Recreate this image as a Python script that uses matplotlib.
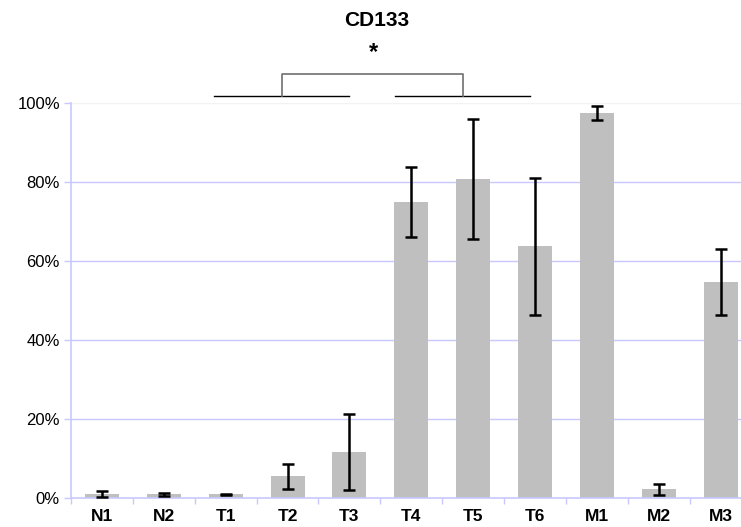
import matplotlib
matplotlib.use("Agg")
import matplotlib.pyplot as plt
from matplotlib.ticker import FixedLocator, PercentFormatter
import numpy as np

categories = ["N1", "N2", "T1", "T2", "T3", "T4", "T5", "T6", "M1", "M2", "M3"]
means = [1.1, 1.0, 1.0, 5.6, 11.8, 75.0, 80.8, 63.8, 97.6, 2.3, 54.7]
errors = [0.8, 0.3, 0.2, 3.2, 9.6, 8.9, 15.2, 17.3, 1.8, 1.4, 8.3]
yticks = [0, 20, 40, 60, 80, 100]
title = "CD133"

plt.rcParams['font.family'] = ['Liberation Sans', 'DejaVu Sans']

W, H = 741, 527
fig = plt.figure(figsize=(W / 100, H / 100), dpi=100)
x0, x1 = 71, 751.5
ybot, ytop = 498.3, 103.3
ax = fig.add_axes([x0 / W, (H - ybot) / H, (x1 - x0) / W, (ybot - ytop) / H])

x = np.arange(len(categories))
ax.bar(x, means, width=0.55, color="#bfbfbf", zorder=2)
ax.errorbar(x, means, yerr=errors, fmt="none", ecolor="black", elinewidth=1.8,
            capsize=4.5, capthick=1.8, zorder=3)

ax.set_xlim(-0.5, len(categories) - 0.5)
ax.set_ylim(0, 100)
ax.yaxis.set_major_locator(FixedLocator(yticks))
ax.yaxis.set_major_formatter(PercentFormatter(decimals=0))

for v in yticks[1:]:
    col = "#c8c8ff" if v < 100 else "#f2f2f2"
    ax.axhline(v, color=col, lw=1.0, zorder=1)

ax.set_xticks(x)
ax.set_xticklabels(categories, fontsize=12.5, fontweight="bold")
ax.set_xticks(np.arange(-0.5, len(categories) + 0.5, 1), minor=True)
ax.tick_params(axis="x", which="major", length=0, pad=8)
ax.tick_params(axis="x", which="minor", length=4, color="#c8c8ff", width=1, direction="out")
ax.tick_params(axis="y", which="major", length=5, color="#c8c8ff", width=1, labelsize=12, pad=3)

for s in ["top", "right"]:
    ax.spines[s].set_visible(False)
for s in ["left", "bottom"]:
    ax.spines[s].set_color("#c8c8ff")
    ax.spines[s].set_linewidth(1.2)

# significance bracket
br = dict(color="black", lw=1.0, clip_on=False, zorder=4)
ax.plot([1.81, 4.0], [101.8, 101.8], **br)
ax.plot([4.73, 6.92], [101.8, 101.8], **br)
ax.plot([2.91, 2.91, 5.83, 5.83], [101.8, 107.5, 107.5, 101.8],
        color="#707070", lw=1.2, clip_on=False, zorder=4)
ax.text(4.39, 110.0, "*", ha="center", va="bottom", fontsize=17, fontweight="bold")

fig.text(376.5 / W, 1 - 21 / H, title, ha="center", va="center", fontsize=15, fontweight="bold")

fig.savefig("out.png", dpi=100)
